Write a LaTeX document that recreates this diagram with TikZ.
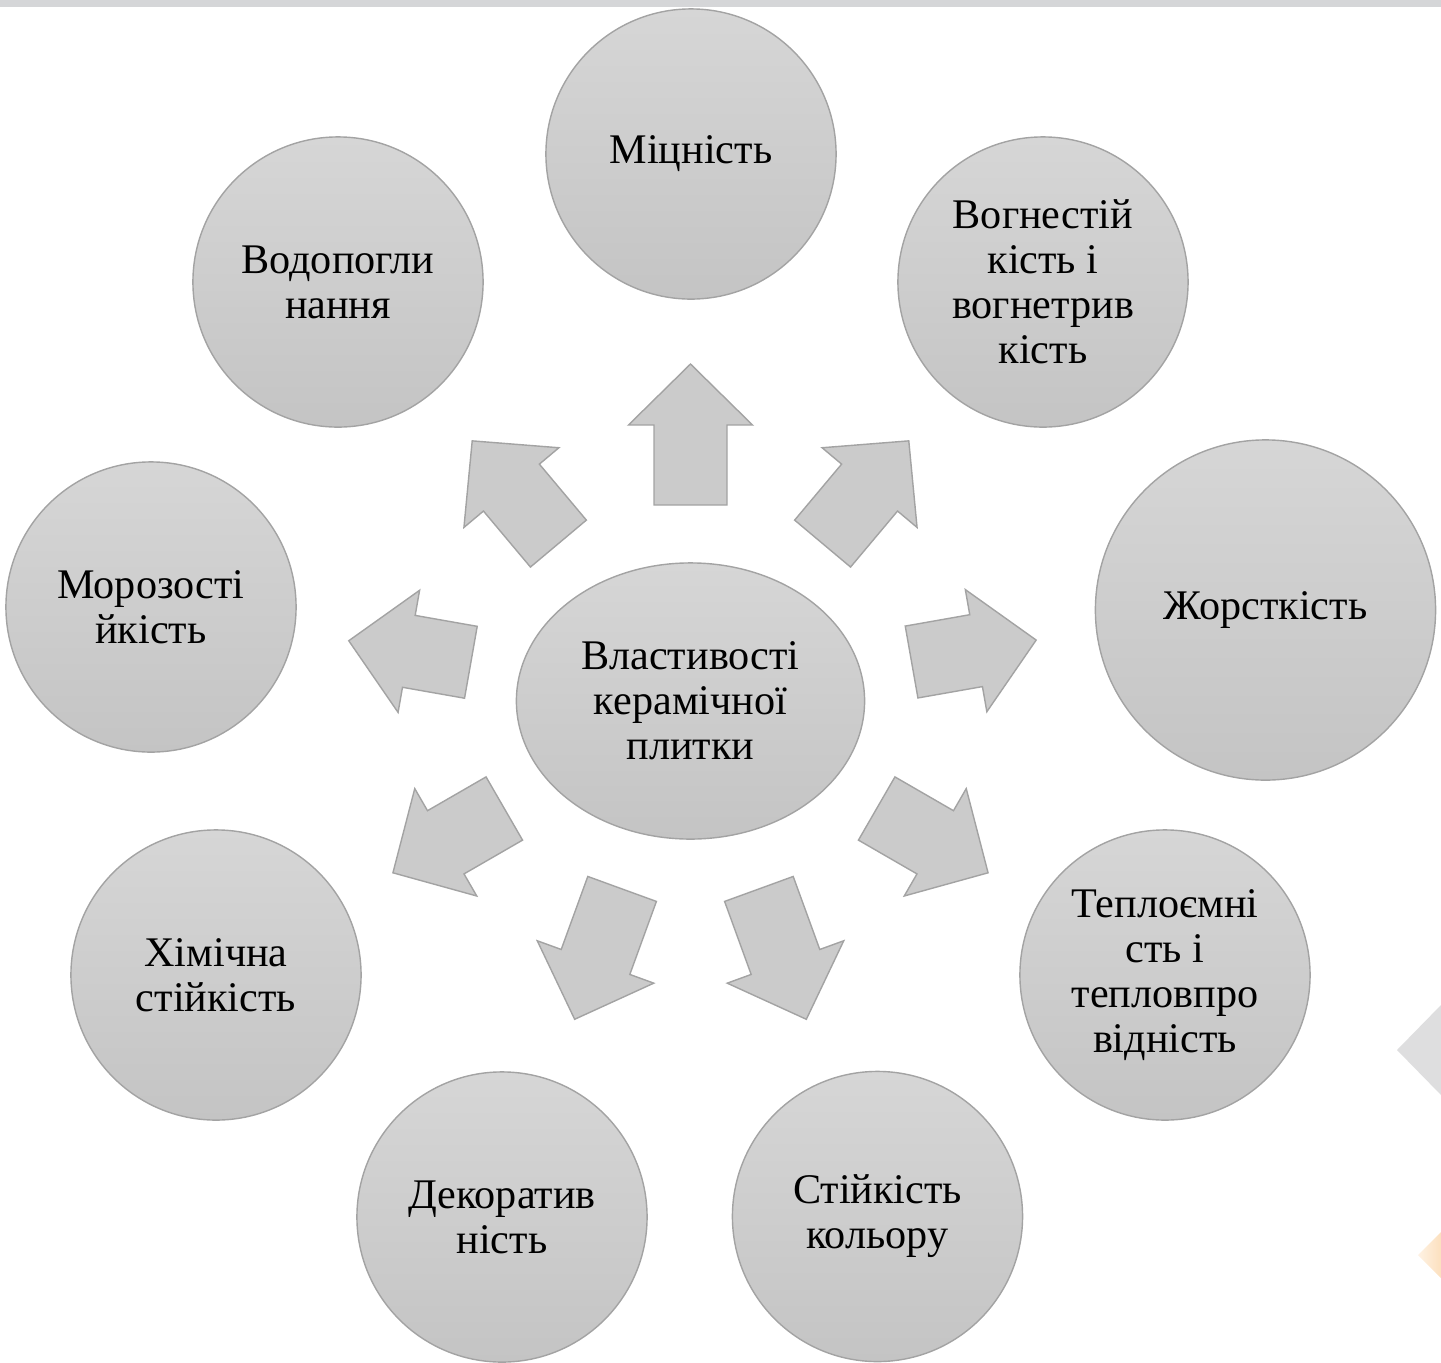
\documentclass[tikz,border=0pt]{standalone}
\usepackage{fontspec}
\setmainfont{Liberation Serif}
\usepackage{xcolor}
\usetikzlibrary{shapes.geometric}
\definecolor{disctop}{RGB}{214,214,214}
\definecolor{discbot}{RGB}{196,196,196}
\definecolor{discline}{RGB}{163,163,163}
\definecolor{arrfill}{RGB}{203,203,203}
\definecolor{topbar}{RGB}{213,214,216}
\definecolor{decogrey}{RGB}{222,222,223}
\definecolor{decopeach}{RGB}{254,242,228}
\definecolor{decoorange}{RGB}{252,224,190}

\begin{document}
\begin{tikzpicture}[x=0.01cm, y=-0.01cm,
  every node/.style={font=\fontsize{12}{12.8}\selectfont},
  prop/.style={circle, draw=discline, line width=0.4pt, top color=disctop,
               bottom color=discbot, align=center, inner sep=0pt,
               minimum size=2.9cm},
  core/.style={ellipse, draw=discline, line width=0.4pt, top color=disctop,
               bottom color=discbot, align=center, inner sep=0pt,
               minimum width=3.48cm, minimum height=2.76cm},
  blockarr/.style={draw=discline, fill=arrfill, line width=0.4pt, line join=miter}
]
\useasboundingbox (0,0) rectangle (1441,1363);
\fill[topbar] (0,0) rectangle (1441,7);
% slide corner marks
\fill[decogrey] (1441,1005) -- (1397,1050) -- (1441,1095) -- cycle;
\shade[left color=decopeach, right color=decoorange] (1441,1232) -- (1418,1255) -- (1441,1278) -- cycle;

\node[core] (core) at (690.5,701) {Властивості\\керамічної\\плитки};

\node[prop] (mitsn) at (691,154) {Міцність};
\node[prop] (vohn) at (1043,282) {Вогнестій\\кість і\\вогнетрив\\кість};
\node[prop, minimum size=3.4cm] (zhorst) at (1265.5,610) {Жорсткість};
\node[prop] (teplo) at (1165,975) {Теплоємні\\сть і\\тепловпро\\відність};
\node[prop] (kolir) at (877.5,1216.5) {Стійкість\\кольору};
\node[prop] (dekor) at (502,1217) {Декоратив\\ність};
\node[prop] (khim) at (216,975) {Хімічна\\стійкість};
\node[prop] (moroz) at (151,607) {Морозості\\йкість};
\node[prop] (vodo) at (338,282) {Водопогли\\нання};

% block arrows: angle / tail radius / tip radius
\foreach \a/\t/\p in {90/196/337, 50/205.5/339.6, 10/224.5/351, -30/215/343.6,
                      -70/200/338.7, -110/200/338.7, -150/215/343.6,
                      170/223/347, 130/205.5/339.6} {
  \begin{scope}[shift={(core.center)}, rotate=\a]
    \draw[blockarr] (\t,-36.5) -- (\p-61,-36.5) -- (\p-61,-62) -- (\p,0)
      -- (\p-61,62) -- (\p-61,36.5) -- (\t,36.5) -- cycle;
  \end{scope}
}
\end{tikzpicture}
\end{document}
